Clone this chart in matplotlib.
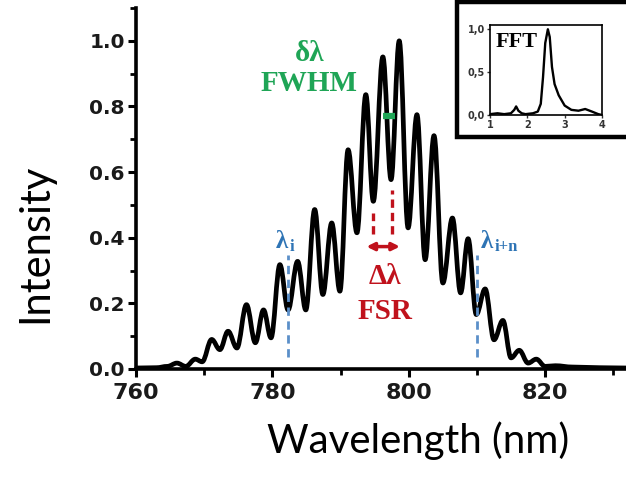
import numpy as np
import matplotlib
matplotlib.use('Agg')
import matplotlib.pyplot as plt
from matplotlib.path import Path
from matplotlib.patches import PathPatch, Rectangle
from matplotlib.ticker import MultipleLocator, FormatStrFormatter

# 主谱：读图得到的峰/谷位置 (nm) 与强度
wl = [760.0, 763.0, 764.6, 766.0, 767.3, 768.7, 769.7, 771.1, 772.3, 773.5,
      774.8, 776.2, 777.5, 778.7, 779.8, 781.1, 782.3, 783.7, 784.9, 786.2,
      787.4, 788.7, 789.9, 791.1, 792.4, 793.7, 794.8, 796.2, 797.4, 798.6,
      799.9, 801.2, 802.4, 803.7, 805.0, 806.4, 807.6, 808.7, 809.9, 811.2,
      812.5, 813.8, 815.0, 816.2, 817.5, 818.7, 820.0, 821.5, 824.0, 828.0, 832.0]
inten = [0.003, 0.004, 0.008, 0.018, 0.008, 0.030, 0.022, 0.090, 0.059, 0.115,
         0.064, 0.196, 0.080, 0.180, 0.095, 0.318, 0.180, 0.328, 0.180, 0.486,
         0.227, 0.445, 0.237, 0.668, 0.415, 0.836, 0.511, 0.951, 0.577, 1.000,
         0.430, 0.775, 0.333, 0.711, 0.262, 0.460, 0.232, 0.397, 0.166, 0.244,
         0.089, 0.148, 0.034, 0.057, 0.018, 0.030, 0.008, 0.010, 0.006, 0.004, 0.003]

# 插图 FFT
fft_x = [1.0, 1.2, 1.38, 1.56, 1.65, 1.70, 1.76, 1.85, 1.95, 2.15, 2.28, 2.36,
         2.42, 2.48, 2.55, 2.60, 2.66, 2.73, 2.84, 3.0, 3.18, 3.37, 3.55, 3.73, 3.9, 4.0]
fft_y = [0.01, 0.02, 0.01, 0.02, 0.06, 0.10, 0.05, 0.02, 0.01, 0.02, 0.04, 0.13,
         0.44, 0.84, 1.0, 0.91, 0.56, 0.36, 0.23, 0.11, 0.06, 0.05, 0.07, 0.04, 0.01, 0.0]

# 标注位置
fsr_x = [794.8, 797.5]
fsr_top = [0.475, 0.545]
fsr_bottom = 0.41
arrow_y = 0.373
fwhm_x = [796.2, 798.0]
fwhm_y = 0.771
blue_x = [782.3, 810.0]

green = '#1fa556'
red = '#c0121c'
blue = '#2e74b5'
blue_line = '#5b8fc9'

fig = plt.figure(figsize=(6.26, 4.78), dpi=100)
ax = fig.add_axes([136 / 626, 109 / 478, 491 / 626, 361 / 478])

# 平滑曲线：相邻极值之间用水平切线的三次贝塞尔
verts = [(wl[0], inten[0])]
codes = [Path.MOVETO]
k = 0.364
for i in range(1, len(wl)):
    dx = wl[i] - wl[i - 1]
    verts += [(wl[i - 1] + k * dx, inten[i - 1]), (wl[i] - k * dx, inten[i]), (wl[i], inten[i])]
    codes += [Path.CURVE4] * 3
ax.add_patch(PathPatch(Path(verts, codes), fill=False, lw=3.4, color='black',
                       capstyle='round', joinstyle='round', zorder=3))

ax.set_xlim(760, 832)
ax.set_ylim(0, 1.1)
for s in ['top', 'right']:
    ax.spines[s].set_visible(False)
for s in ['left', 'bottom']:
    ax.spines[s].set_linewidth(2.6)
ax.xaxis.set_major_locator(MultipleLocator(20))
ax.xaxis.set_minor_locator(MultipleLocator(10))
ax.yaxis.set_major_locator(MultipleLocator(0.2))
ax.yaxis.set_minor_locator(MultipleLocator(0.1))
ax.yaxis.set_major_formatter(FormatStrFormatter('%.1f'))
ax.tick_params(which='major', length=6, width=2.2, direction='out')
ax.tick_params(which='minor', length=4, width=2.0, direction='out')
ax.tick_params(axis='y', pad=2)
ax.tick_params(axis='x', pad=4)
for lab in ax.get_yticklabels():
    lab.set_fontfamily('DejaVu Sans')
    lab.set_fontweight('bold')
    lab.set_fontsize(14.5)
    lab.set_color('#1a1a1a')
for lab in ax.get_xticklabels():
    lab.set_fontfamily('DejaVu Sans')
    lab.set_fontweight('bold')
    lab.set_fontsize(16)
    lab.set_color('#1a1a1a')

# 轴标签
fig.text(418 / 626, 1 - 453 / 478, 'Wavelength (nm)', family='Lato', fontsize=29,
         ha='center', va='baseline')
fig.text(35 / 626, 1 - 243 / 478, 'Intensity', family='Lato', fontsize=30,
         rotation=90, ha='center', va='center')

# FSR 标注
for xv, yt in zip(fsr_x, fsr_top):
    ax.plot([xv, xv], [fsr_bottom, yt], color=red, lw=2.4, ls=(0, (2.5, 1.5)), zorder=2)
ax.annotate('', xy=(fsr_x[0] - 1.0, arrow_y), xytext=(fsr_x[1] + 1.2, arrow_y),
            arrowprops=dict(arrowstyle='<|-|>', color=red, lw=2.5, mutation_scale=11,
                            shrinkA=0, shrinkB=0))
ax.text(796.5, 0.281, 'Δλ', color=red, family='Liberation Serif', fontweight='bold',
        fontsize=21, ha='center', va='center')
ax.text(796.5, 0.175, 'FSR', color=red, family='Liberation Serif', fontweight='bold',
        fontsize=21, ha='center', va='center')

# FWHM 标注
ax.plot(fwhm_x, [fwhm_y, fwhm_y], color=green, lw=4.5, solid_capstyle='butt', zorder=4)
ax.text(785.5, 0.962, 'δλ', color=green, family='Liberation Serif', fontweight='bold',
        fontsize=21, ha='center', va='center')
ax.text(785.4, 0.871, 'FWHM', color=green, family='Liberation Serif', fontweight='bold',
        fontsize=21, ha='center', va='center')

# λ 标注
for xv in blue_x:
    ax.plot([xv, xv], [0.037, 0.348], color=blue_line, lw=2.0, ls=(0, (3, 2)), zorder=4)
for xl, sub in [(781.4, 'i'), (811.5, 'i+n')]:
    t = ax.text(xl, 0.388, 'λ', color=blue, family='Liberation Serif', fontweight='bold',
                fontsize=18, ha='center', va='center')
    ax.annotate(sub, xy=(1.0, 0.0), xycoords=t, xytext=(1, -1), textcoords='offset points',
                color=blue, family='Liberation Serif', fontweight='bold', fontsize=12,
                ha='left', va='bottom')

# 插图边框
fig.add_artist(Rectangle((457 / 626, 1 - 137 / 478), 0.3, 135 / 478,
                         transform=fig.transFigure, facecolor='white',
                         edgecolor='black', lw=3.2, zorder=5))

ins = fig.add_axes([490 / 626, 1 - 115 / 478, 112 / 626, 90 / 478], zorder=6)
ins.plot(fft_x, fft_y, color='black', lw=1.7)
ins.set_xlim(1, 4)
ins.set_ylim(0, 1.05)
ins.set_xticks([1, 2, 3, 4])
ins.set_yticks([0, 0.5, 1.0])
ins.set_yticklabels(['0,0', '0,5', '1,0'])
ins.tick_params(length=2.5, width=1, pad=1, labelsize=7, colors='#333333')
for lab in ins.get_xticklabels() + ins.get_yticklabels():
    lab.set_fontweight('bold')
for s in ins.spines.values():
    s.set_linewidth(1.2)
ins.text(1.16, 0.97, 'FFT', family='Liberation Serif', fontweight='bold', fontsize=16,
         ha='left', va='top')

fig.savefig('out.png', dpi=100)
